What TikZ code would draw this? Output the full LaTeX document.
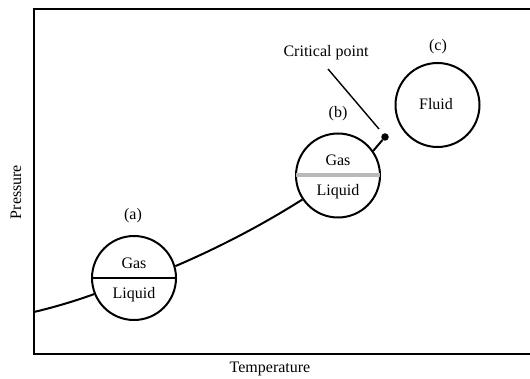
\documentclass[tikz,border=0pt]{standalone}
\usepackage{fontspec}
\setmainfont{Liberation Serif}
\begin{document}
\begin{tikzpicture}[x=1pt,y=-1pt,
  phase/.style={circle,draw,line width=2pt,minimum size=84pt,inner sep=0pt},
  lbl/.style={font=\fontsize{16}{19}\selectfont,inner sep=0pt},
  curve/.style={line width=2pt}]
\useasboundingbox (0,0) rectangle (530,379);
\draw[line width=1.8pt] (531,9) -- (34,9) -- (34,354) -- (531,354);
% circles
\node[phase] (a) at (134,278) {};
\node[phase] (b) at (338,175.5) {};
\node[phase] (c) at (437.5,105) {};
% dividers
\draw[line width=1.7pt] (a.west) -- (a.east);
\draw[line width=4pt,gray!55,shorten <=1pt,shorten >=1pt] (b.west) -- (b.east);
% texts
\node[lbl] (ga) at (134,263) {Gas};
\node[lbl] (la) at (134,294.5) {Liquid};
\node[lbl] (gb) at (338,160) {Gas};
\node[lbl] (lb) at (338,191.5) {Liquid};
\node[lbl] (fc) at (436,104) {Fluid};
\node[lbl] (pa) at (133,216) {(a)};
\node[lbl] (pb) at (338,114) {(b)};
\node[lbl] (pc) at (438,47) {(c)};
\node[lbl] (cpt) at (326,53) {Critical point};
\node[lbl,rotate=90] (py) at (16,192) {Pressure};
\node[lbl] (tx) at (270,369) {Temperature};
% curve
\coordinate (s) at (34,312);
\node[circle,fill=black,inner sep=0pt,minimum size=7.5pt] (cp) at (385,137) {};
\draw[curve] (s) .. controls (55,307) and (75,301) .. (a.202);
\draw[curve] (a.16) .. controls (220,247) and (262,225) .. (b.214);
\draw[curve] (b.35) -- (cp);
% leader
\coordinate (l1) at (328,69);
\coordinate (l2) at (379,129);
\draw[line width=1.4pt] (l1) -- (l2);
\end{tikzpicture}
\end{document}
